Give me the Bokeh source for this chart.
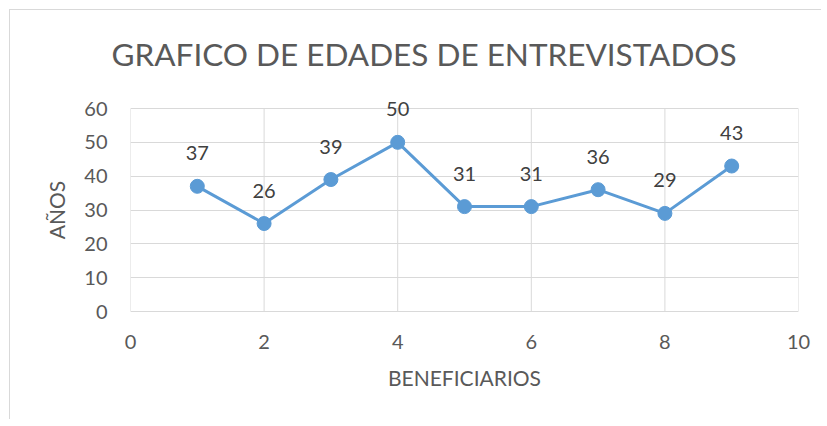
from bokeh.plotting import figure
from bokeh.models import ColumnDataSource, FixedTicker, Range1d
from bokeh.embed import file_html
from bokeh.resources import INLINE
from bokeh.core.properties import value

beneficiarios = [1, 2, 3, 4, 5, 6, 7, 8, 9]
edades = [37, 26, 39, 50, 31, 31, 36, 29, 43]
x_ticks = [0, 2, 4, 6, 8, 10]
y_ticks = [0, 10, 20, 30, 40, 50, 60]
title_text = "GRAFICO DE EDADES DE ENTREVISTADOS"
x_label = "BENEFICIARIOS"
y_label = "AÑOS"

FONT = "Lato"
TEXT = "#595959"
LABEL = "#404040"
GRID = "#d9d9d9"
BLUE = "#5b9bd5"

# plot area is 203 px tall for 0..60; pad the frame by 14 px above and below
# so that data labels near the top are not clipped
PAD_PX = 14
y_span = y_ticks[-1] - y_ticks[0]
pad = PAD_PX * y_span / 203.0

src = ColumnDataSource(dict(x=beneficiarios, y=edades, lbl=[str(v) for v in edades]))

p = figure(width=812, height=410, output_backend="svg", toolbar_location=None,
           x_range=Range1d(x_ticks[0], x_ticks[-1]),
           y_range=Range1d(y_ticks[0] - pad, y_ticks[-1] + pad),
           min_border_left=120, min_border_right=24, min_border_top=84, min_border_bottom=95)
p.styles = {"margin-left": "9px", "margin-top": "9px",
            "border-left": "1px solid #d9d9d9", "border-top": "1px solid #d9d9d9"}

p.outline_line_color = None
p.background_fill_color = "white"
p.border_fill_color = "white"

for ax, ticks in ((p.xaxis, x_ticks), (p.yaxis, y_ticks)):
    ax.ticker = FixedTicker(ticks=ticks)
    ax.major_tick_in = 0
    ax.major_tick_out = 0
    ax.minor_tick_in = 0
    ax.minor_tick_out = 0
    ax.axis_line_color = None
    ax.major_label_text_font = FONT
    ax.major_label_text_font_size = "20px"
    ax.major_label_text_color = TEXT
    ax.axis_label_text_font = FONT
    ax.axis_label_text_font_size = "21px"
    ax.axis_label_text_color = TEXT
    ax.axis_label_text_font_style = "normal"

p.xaxis.axis_label = x_label
p.yaxis.axis_label = y_label
p.xaxis.major_label_standoff = 23 - PAD_PX
p.yaxis.major_label_standoff = 23
p.xaxis.axis_label_standoff = 13
p.yaxis.axis_label_standoff = 12

# horizontal grid lines (0..60 span the full width 0..10)
p.ygrid.ticker = FixedTicker(ticks=y_ticks)
p.ygrid.grid_line_color = GRID
p.ygrid.grid_line_width = 1
# vertical grid lines limited to the 0..60 plot area
p.xgrid.grid_line_color = None
n = len(x_ticks)
p.segment(x0=x_ticks, y0=[y_ticks[0]] * n, x1=x_ticks, y1=[y_ticks[-1]] * n,
          line_color=GRID, line_width=1)

p.title.text = title_text
p.title.align = "left"
p.title.offset = -19
p.title.standoff = 44
p.title.text_font = FONT
p.title.text_font_size = "31.5px"
p.title.text_font_style = "normal"
p.title.text_color = TEXT

p.line("x", "y", source=src, line_width=3, line_color=BLUE)
p.scatter("x", "y", source=src, size=14, fill_color=BLUE, line_color=BLUE)
p.text("x", "y", text="lbl", source=src, text_align="center", text_baseline="alphabetic",
       y_offset=-33, text_font=value(FONT), text_font_size="20px", text_color=LABEL)

open("out.html", "w").write(file_html(p, INLINE))
